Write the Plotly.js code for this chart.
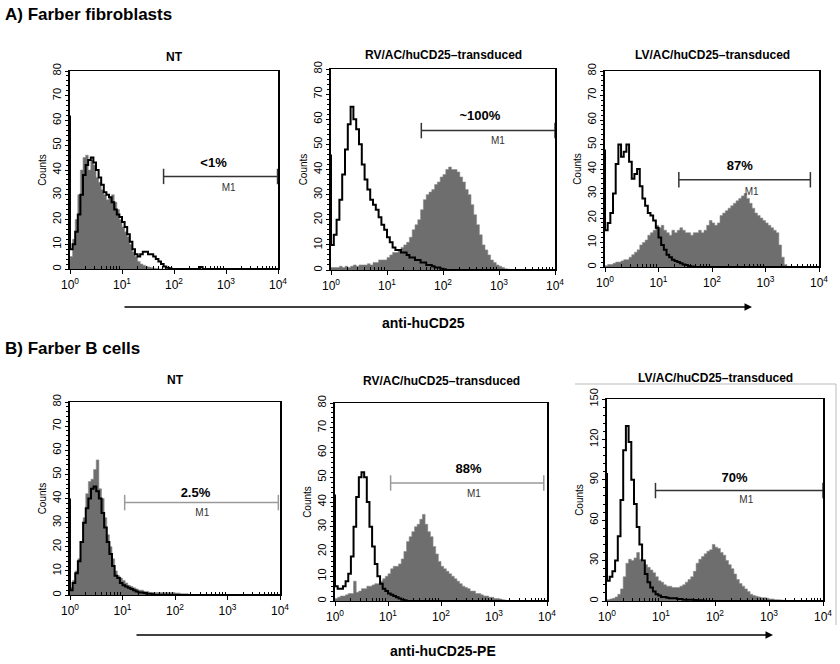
<!DOCTYPE html>
<html>
<head>
<meta charset="utf-8">
<script src="https://cdn.plot.ly/plotly-3.0.1.min.js"></script>
<style>
  html, body { margin: 0; padding: 0; background: #fff; }
  #chart { width: 840px; height: 664px; }
</style>
</head>
<body>
<div id="chart"></div>
<script>
// channel positions, in decades (10^0 .. 10^4)
const logBins = [
  0, 0.05, 0.1, 0.15, 0.2, 0.25, 0.3, 0.35, 0.4, 0.45,
  0.5, 0.55, 0.6, 0.65, 0.7, 0.75, 0.8, 0.85, 0.9, 0.95,
  1, 1.05, 1.1, 1.15, 1.2, 1.25, 1.3, 1.35, 1.4, 1.45,
  1.5, 1.55, 1.6, 1.65, 1.7, 1.75, 1.8, 1.85, 1.9, 1.95,
  2, 2.05, 2.1, 2.15, 2.2, 2.25, 2.3, 2.35, 2.4, 2.45,
  2.5, 2.55, 2.6, 2.65, 2.7, 2.75, 2.8, 2.85, 2.9, 2.95,
  3, 3.05, 3.1, 3.15, 3.2, 3.25, 3.3, 3.35, 3.4, 3.45,
  3.5, 3.55, 3.6, 3.65, 3.7, 3.75, 3.8, 3.85, 3.9, 3.95,
  4
];

// A) fibroblasts - gray filled (stained) and black outline (control)
const fibroNtFill = [
  3, 5, 12, 20, 30, 40, 45, 46, 40, 44,
  42, 37, 35, 32, 30, 28, 29, 30, 27, 24,
  20, 17, 15, 13, 10, 7, 5, 3, 2, 1.5,
  1, 0.8, 0.5, 0.3, 0.2, 0, 0, 0, 0, 0,
  0, 0, 0, 0, 0, 0, 0, 0, 0, 0,
  0, 0, 0, 0, 0, 0, 0, 0, 0, 0,
  0, 0, 0, 0, 0, 0, 0, 0, 0, 0,
  0, 0, 0, 0, 0, 0, 0, 0, 0, 0,
  0
];
const fibroNtLine = [
  62, 8, 10, 15, 22, 30, 38, 42, 44, 45,
  43, 40, 37, 34, 31, 30, 29, 27, 24, 22,
  21, 19, 17, 14, 11, 8, 6, 5, 6, 7,
  7, 6, 6, 5, 4, 3, 2, 1, 0.5, 0.3,
  0, 0, 0, 0, 0, 0, 0, 0, 0, 0,
  0, 0.8, 0, 0, 0, 0, 0, 0, 0, 0,
  0, 0, 0, 0, 0, 0, 0, 0, 0, 0,
  0, 0, 0, 0, 0, 0, 0, 0, 0, 0,
  0
];
const fibroRvFill = [
  1, 1, 1, 1, 1.5, 1, 1.5, 1, 1.5, 2,
  1.5, 2, 2, 2, 2.5, 2, 3, 3, 4, 4,
  4, 5, 6, 7, 7, 8, 9, 10, 11, 13,
  16, 18, 20, 24, 28, 30, 31, 32, 34, 35,
  37, 38, 40, 41, 40, 40, 39, 37, 35, 32,
  30, 26, 22, 18, 14, 10, 8, 6, 4, 3,
  2, 1.5, 1, 0.5, 0.3, 0, 0, 0, 0, 0,
  0, 0, 0, 0, 0, 0, 0, 0, 0, 0,
  0
];
const fibroRvLine = [
  46, 10, 14, 20, 28, 38, 48, 58, 65, 60,
  56, 50, 42, 36, 32, 28, 26, 24, 21, 18,
  16, 13, 11, 9, 8, 8, 7, 7, 6, 5,
  5, 4, 4, 3, 3, 2, 2, 1.5, 1, 1,
  0.5, 0.3, 0, 0, 0, 0, 0, 0, 0, 0,
  0, 0, 0, 0, 0, 0, 0, 0, 0, 0,
  0, 0, 0, 0, 0, 0, 0, 0, 0, 0,
  0, 0, 0, 0, 0, 0, 0, 0, 0, 0,
  0
];
const fibroLvFill = [
  0, 0.5, 1, 1, 1.5, 2, 2, 2.5, 3, 3,
  4, 5, 6, 7, 9, 10, 11, 13, 14, 15,
  17, 16, 17, 15, 14, 13, 15, 14, 15, 16,
  15, 14, 14, 13, 14, 14, 15, 14, 15, 17,
  19, 18, 17, 18, 21, 22, 23, 24, 25, 26,
  27, 28, 29, 30, 28, 26, 24, 22, 21, 20,
  19, 18, 17, 16, 15, 14, 9, 4, 1, 0.3,
  0, 0, 0, 0, 0, 0, 0, 0, 0, 0,
  0
];
const fibroLvLine = [
  48, 15, 18, 22, 30, 42, 50, 45, 47, 50,
  43, 36, 38, 40, 33, 28, 25, 22, 21, 19,
  16, 12, 9, 7, 5, 4, 3, 2.5, 2, 1.5,
  1, 0.8, 0.4, 0.2, 0, 0, 0, 0, 0, 0,
  0, 0, 0, 0, 0, 0, 0, 0, 0, 0,
  0, 0, 0, 0, 0, 0, 0, 0, 0, 0,
  0, 0, 0, 0, 0, 0, 0, 0, 0, 0,
  0, 0, 0, 0, 0, 0, 0, 0, 0, 0,
  0
];

// B) B cells
const bcellNtFill = [
  1, 3, 6, 10, 15, 22, 32, 42, 47, 48,
  52, 56, 44, 40, 32, 25, 20, 15, 10, 8,
  7, 6, 5, 4, 3.5, 3, 2.5, 2, 2, 1.5,
  1.5, 1, 1, 1, 1, 1, 1, 1, 1, 1,
  1, 0.8, 0.8, 0.5, 0.5, 0.5, 0.3, 0, 0, 0,
  0, 0, 0, 0, 0, 0, 0, 0, 0, 0,
  0, 0, 0, 0, 0, 0, 0, 0, 0, 0,
  0, 0, 0, 0, 0, 0, 0, 0, 0, 0,
  0
];
const bcellNtLine = [
  40, 2, 5, 9, 14, 22, 30, 36, 40, 44,
  45, 43, 40, 34, 28, 22, 17, 12, 8, 7,
  5, 4, 3.5, 3, 2.5, 2, 1.5, 1, 1, 0.8,
  0.5, 0.5, 0.3, 0, 0, 0, 0, 0, 0, 0,
  0, 0, 0, 0, 0, 0, 0, 0, 0, 0,
  0, 0, 0, 0, 0, 0, 0, 0, 0, 0,
  0, 0, 0, 0, 0, 0, 0, 0, 0, 0,
  0, 0, 0, 0, 0, 0, 0, 0, 0, 0,
  0
];
const bcellRvFill = [
  0.5, 1, 1.5, 2, 2, 2.5, 3, 3, 8, 3.5,
  4, 5, 5, 6, 6, 6.5, 7, 7, 8, 9,
  10, 11, 13, 14, 14, 15, 17, 20, 24, 26,
  28, 30, 31, 33, 35, 31, 28, 26, 22, 19,
  16, 14, 13, 12, 11, 10, 9, 8, 7, 6,
  5.5, 5, 4, 4, 3, 3, 2.5, 2, 2, 1.5,
  1.5, 1, 1, 0.8, 0.5, 0.3, 0, 0, 0, 0,
  0, 0, 0, 0, 0, 0, 0, 0, 0, 0,
  0
];
const bcellRvLine = [
  43, 6, 5, 5, 6, 8, 11, 18, 30, 42,
  50, 52, 50, 40, 30, 22, 15, 10, 7, 5,
  4, 3, 2.5, 2, 1.5, 1, 0.5, 0.3, 0, 0,
  0, 0, 0, 0, 0, 0, 0, 0, 0, 0,
  0, 0, 0, 0, 0, 0, 0, 0, 0, 0,
  0, 0, 0, 0, 0, 0, 0, 0, 0, 0,
  0, 0, 0, 0, 0, 0, 0, 0, 0, 0,
  0, 0, 0, 0, 0, 0, 0, 0, 0, 0,
  0
];
const bcellLvFill = [
  0.5, 1, 1.5, 2, 3, 5, 9, 18, 28, 31,
  30, 32, 36, 31, 29, 27, 25, 23, 21, 18,
  15, 14, 12, 11, 11, 10, 10, 10, 11, 12,
  14, 16, 18, 22, 28, 31, 33, 35, 37, 38,
  42, 40, 39, 36, 34, 30, 27, 24, 20, 16,
  13, 11, 9, 7, 5, 4, 3.5, 3, 2.5, 2.5,
  2, 1.5, 1.5, 1, 1, 0.8, 0.5, 0.3, 0, 0,
  0, 0, 0, 0, 0, 0, 0, 0, 0, 0,
  0
];
const bcellLvLine = [
  95, 15, 18, 22, 30, 48, 75, 112, 130, 118,
  90, 72, 55, 42, 30, 20, 14, 10, 7, 5,
  4, 3, 3, 2.5, 2, 2, 2, 1.5, 1.5, 1,
  1, 1, 1, 0.8, 0.5, 0.5, 0.3, 0, 0, 0,
  0, 0, 0, 0, 0, 0, 0, 0, 0, 0,
  0, 0, 0, 0, 0, 0, 0, 0, 0, 0,
  0, 0, 0, 0, 0, 0, 0, 0, 0, 0,
  0, 0, 0, 0, 0, 0, 0, 0, 0, 0,
  0
];

const panelTitles = ['NT', 'RV/AC/huCD25\u2013transduced', 'LV/AC/huCD25\u2013transduced',
  'NT', 'RV/AC/huCD25\u2013transduced', 'LV/AC/huCD25\u2013transduced'];
// M1 gate limits (channel values) and % positive
const gateLow = [63, 41, 24, 11, 11.2, 7.9];
const gateHigh = [9800, 10000, 6900, 9300, 8700, 10000];
const gatePercent = ['<1%', '~100%', '87%', '2.5%', '88%', '70%'];
const yMax = [80, 80, 80, 80, 80, 150];
const xTickVals = [1, 10, 100, 1000, 10000];
const xTickText = ['10<sup>0</sup>', '10<sup>1</sup>', '10<sup>2</sup>', '10<sup>3</sup>', '10<sup>4</sup>'];

const W = 840, H = 664;
const FONT = 'Liberation Sans, Arial, Helvetica, sans-serif';

// pixel boxes of each plot frame [left, right, top, bottom] + label placement
const panels = [
  {fill: fibroNtFill, line: fibroNtLine, box: [70, 278, 71, 269], titleY: 57, gateY: 37.4, pctX: 2.76, pctY: 42.5, m1X: 3.05, m1Y: 32.5, gateColor: '#333'},
  {fill: fibroRvFill, line: fibroRvLine, box: [331, 555, 69, 270], titleY: 55, gateY: 55.5, pctX: 2.66, pctY: 61, m1X: 2.98, m1Y: 51, gateColor: '#333'},
  {fill: fibroLvFill, line: fibroLvLine, box: [605, 819, 71, 267], titleY: 55, gateY: 35.6, pctX: 2.52, pctY: 41, m1X: 2.74, m1Y: 30.6, gateColor: '#333'},
  {fill: bcellNtFill, line: bcellNtLine, box: [70, 280, 402, 595], titleY: 380, gateY: 38.3, pctX: 2.39, pctY: 42, m1X: 2.52, m1Y: 33.8, gateColor: '#9a9a9a'},
  {fill: bcellRvFill, line: bcellRvLine, box: [335, 547, 403, 601], titleY: 381, gateY: 47.7, pctX: 2.52, pctY: 53, m1X: 2.62, m1Y: 43, gateColor: '#9a9a9a'},
  {fill: bcellLvFill, line: bcellLvLine, box: [607, 823, 399, 601], titleY: 378, gateY: 82, pctX: 2.36, pctY: 90.5, m1X: 2.58, m1Y: 74.4, gateColor: '#333'}
];

const xMinor = [];
for (let d = 1; d <= 1000; d *= 10) {
  for (let k = 2; k <= 9; k++) xMinor.push(k * d);
}

const channelVals = logBins.map((v) => Math.pow(10, v));

let data = [];
let layout = {
  width: W,
  height: H,
  margin: {l: 0, r: 0, t: 0, b: 0, pad: 0},
  paper_bgcolor: '#fff',
  plot_bgcolor: '#fff',
  showlegend: false,
  font: {family: FONT, color: '#000'},
  annotations: [],
  shapes: []
};

panels.forEach((p, i) => {
  const n = i === 0 ? '' : String(i + 1);
  const xa = 'x' + n, ya = 'y' + n;
  const [l, r, t, b] = p.box;

  data.push({
    type: 'scatter', mode: 'lines', xaxis: xa, yaxis: ya,
    x: channelVals, y: p.fill,
    line: {shape: 'vh', color: '#8a8a8a', width: 0.6},
    fill: 'tozeroy', fillcolor: '#6e6e6e',
    hoverinfo: 'skip'
  });
  data.push({
    type: 'scatter', mode: 'lines', xaxis: xa, yaxis: ya,
    x: channelVals, y: p.line,
    line: {shape: 'vh', color: '#000', width: 2},
    hoverinfo: 'skip'
  });
  // M1 gate bar
  data.push({
    type: 'scatter', mode: 'lines+markers', xaxis: xa, yaxis: ya,
    x: [gateLow[i], gateHigh[i]], y: [p.gateY, p.gateY],
    line: {color: p.gateColor, width: 1.5},
    marker: {symbol: 'line-ns-open', size: 11, color: p.gateColor, line: {color: p.gateColor, width: 1.5}},
    hoverinfo: 'skip'
  });
  data.push({
    type: 'scatter', mode: 'text', xaxis: xa, yaxis: ya,
    x: [Math.pow(10, p.pctX)], y: [p.pctY],
    text: ['<b>' + gatePercent[i] + '</b>'],
    textfont: {family: FONT, size: 13, color: '#000'},
    textposition: 'middle center',
    hoverinfo: 'skip'
  });
  data.push({
    type: 'scatter', mode: 'text', xaxis: xa, yaxis: ya,
    x: [Math.pow(10, p.m1X)], y: [p.m1Y],
    text: ['M1'],
    textfont: {family: FONT, size: 10, color: '#333'},
    textposition: 'middle center',
    hoverinfo: 'skip'
  });

  layout['xaxis' + n] = {
    type: 'log', anchor: ya,
    domain: [l / W, r / W],
    range: [0, 4],
    tickmode: 'array', tickvals: xTickVals, ticktext: xTickText,
    ticks: 'outside', ticklen: 4, tickwidth: 1, tickcolor: '#000',
    minor: {tickmode: 'array', tickvals: xMinor, ticks: 'inside', ticklen: 3, tickcolor: '#000'},
    tickfont: {family: FONT, size: 12, color: '#000'},
    showline: true, mirror: true, linecolor: '#000', linewidth: 1.2,
    showgrid: false, zeroline: false, automargin: false, fixedrange: true
  };
  layout['yaxis' + n] = {
    anchor: xa,
    domain: [1 - b / H, 1 - t / H],
    range: [0, yMax[i]],
    dtick: yMax[i] === 150 ? 30 : 10,
    tickangle: -90,
    ticks: 'outside', ticklen: 3, tickwidth: 1, tickcolor: '#000',
    minor: {dtick: yMax[i] === 150 ? 6 : 2, ticks: 'outside', ticklen: 2, tickcolor: '#000'},
    tickfont: {family: FONT, size: 11, color: '#000'},
    title: {text: 'Counts', font: {family: FONT, size: 10, color: '#000'}, standoff: 2},
    showline: true, mirror: true, linecolor: '#000', linewidth: 1.6,
    showgrid: false, zeroline: false, automargin: false, fixedrange: true
  };

  layout.annotations.push({
    xref: 'paper', yref: 'paper', x: (l + r) / 2 / W, y: 1 - p.titleY / H,
    text: '<b>' + panelTitles[i] + '</b>', showarrow: false,
    xanchor: 'center', yanchor: 'middle',
    font: {family: FONT, size: 12, color: '#000'}
  });
});

// section headings
layout.annotations.push({
  xref: 'paper', yref: 'paper', x: 3 / W, y: 1 - 15 / H, xanchor: 'left', yanchor: 'middle',
  text: '<b>A) Farber fibroblasts</b>', showarrow: false, font: {family: FONT, size: 17, color: '#000'}
});
layout.annotations.push({
  xref: 'paper', yref: 'paper', x: 3 / W, y: 1 - 348 / H, xanchor: 'left', yanchor: 'middle',
  text: '<b>B) Farber B cells</b>', showarrow: false, font: {family: FONT, size: 17, color: '#000'}
});

// long arrows under each row
[[123, 752, 307, 'anti-huCD25', 423, 323], [135, 773, 635, 'anti-huCD25-PE', 443, 651]].forEach((a) => {
  layout.annotations.push({
    xref: 'paper', yref: 'paper', x: a[1] / W, y: 1 - a[2] / H,
    axref: 'pixel', ayref: 'pixel', ax: -(a[1] - a[0]), ay: 0,
    text: '', showarrow: true, arrowhead: 2, arrowsize: 1, arrowwidth: 1.5, arrowcolor: '#000'
  });
  layout.annotations.push({
    xref: 'paper', yref: 'paper', x: a[4] / W, y: 1 - a[5] / H,
    text: '<b>' + a[3] + '</b>', showarrow: false, xanchor: 'center', yanchor: 'middle',
    font: {family: FONT, size: 14, color: '#000'}
  });
});

// light frame left over around the last panel
layout.shapes.push({type: 'line', xref: 'paper', yref: 'paper',
  x0: 575 / W, x1: 836 / W, y0: 1 - 384 / H, y1: 1 - 384 / H, line: {color: '#bbb', width: 1}});
layout.shapes.push({type: 'line', xref: 'paper', yref: 'paper',
  x0: 836 / W, x1: 836 / W, y0: 1 - 384 / H, y1: 1 - 625 / H, line: {color: '#bbb', width: 1}});

Plotly.newPlot('chart', data, layout, {staticPlot: true, displayModeBar: false});
</script>
</body>
</html>
